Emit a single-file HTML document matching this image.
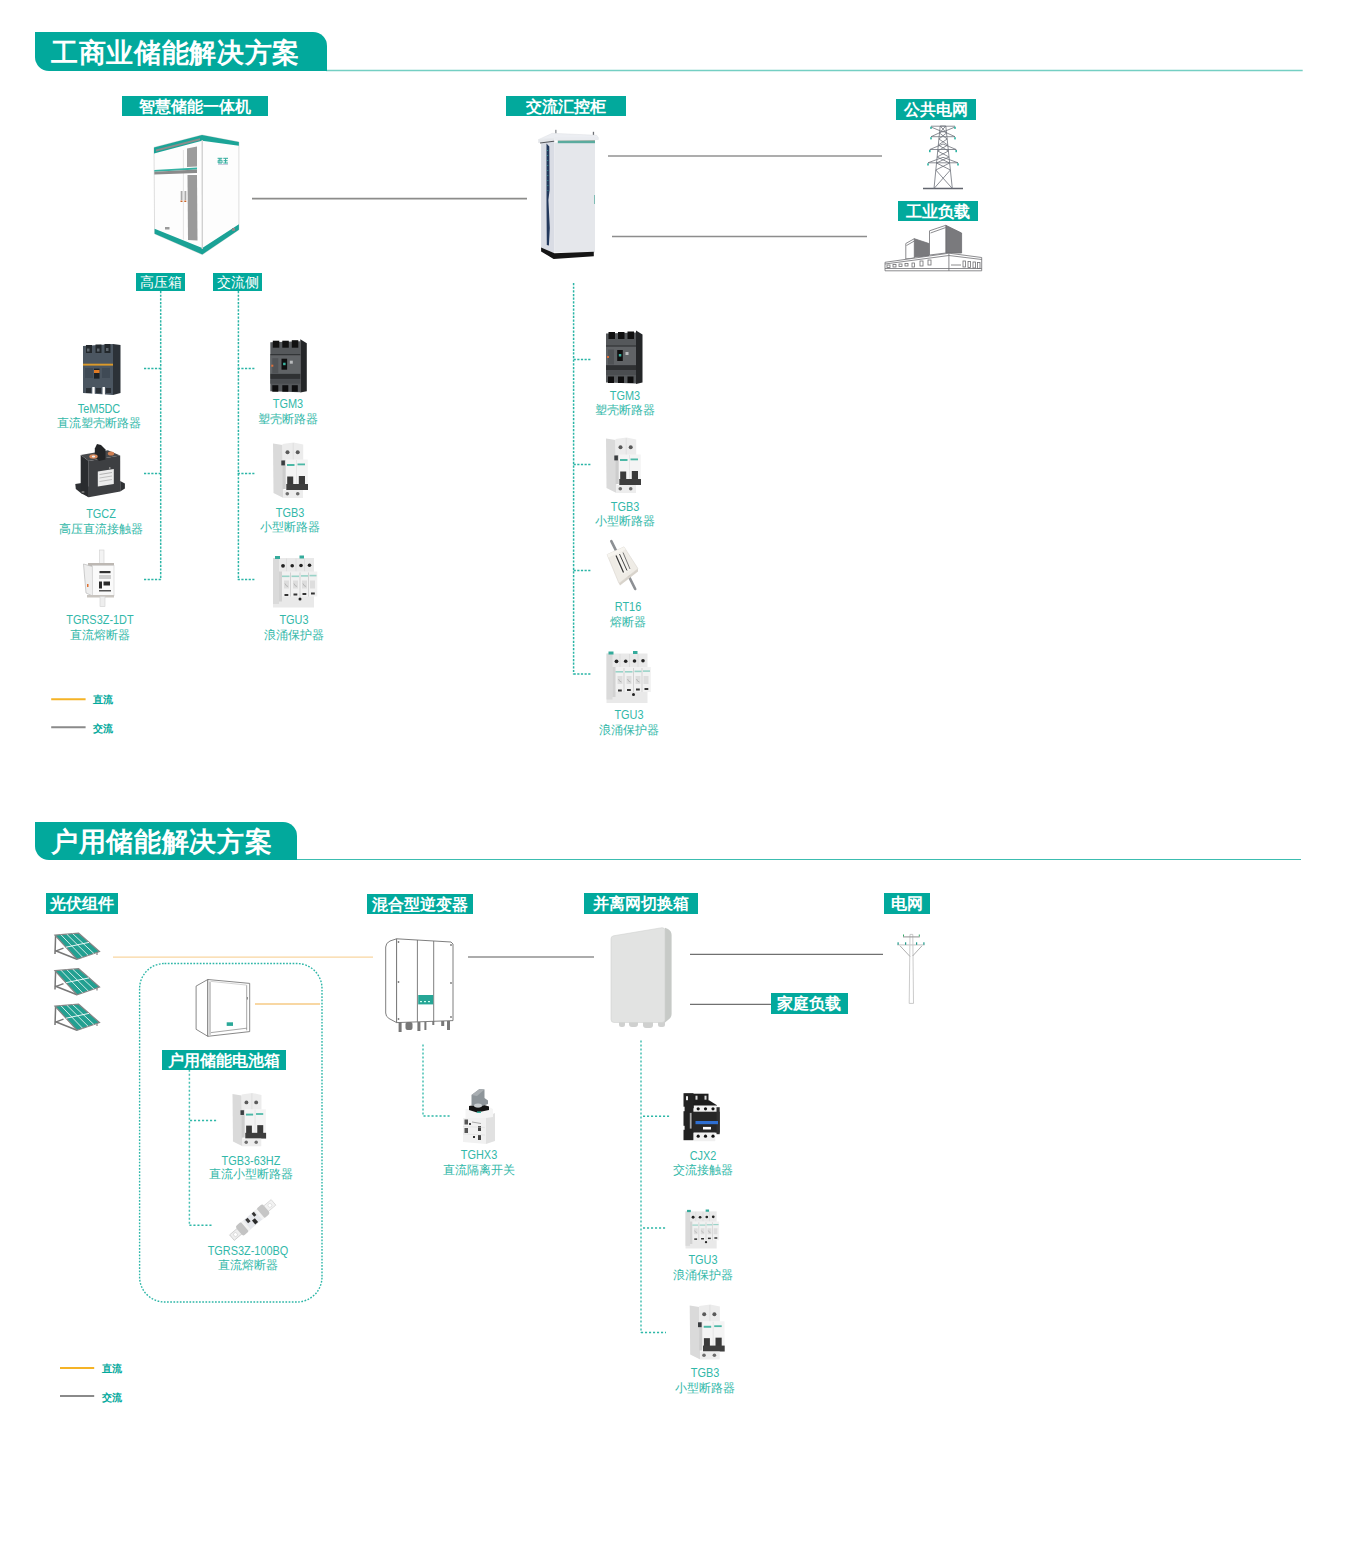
<!DOCTYPE html>
<html><head><meta charset="utf-8"><title>储能解决方案</title>
<style>
html,body{margin:0;padding:0;background:#fff;}
body{width:1350px;height:1565px;position:relative;overflow:hidden;font-family:"Liberation Sans",sans-serif;}
.hd{position:absolute;background:#02a99c;color:#fff;font-weight:bold;font-size:27px;letter-spacing:0.65px;border-radius:0 14px 0 14px;box-sizing:border-box;white-space:nowrap;}
.lb{position:absolute;background:#02a99c;color:#fff;text-align:center;white-space:nowrap;}
.capl{position:absolute;width:160px;color:#32b8a9;text-align:center;white-space:nowrap;font-size:13px;line-height:13px;transform:scaleX(0.84);}
.capc{position:absolute;width:160px;color:#32b8a9;text-align:center;white-space:nowrap;font-size:12px;line-height:12px;}
.lg{position:absolute;color:#02a99c;font-size:10px;font-weight:bold;line-height:12px;white-space:nowrap;}
svg{position:absolute;left:0;top:0;}
</style></head><body>
<svg width="1350" height="1565" viewBox="0 0 1350 1565"><defs><g id="tem5">
<polygon points="0,3 30,1 30,52 0,50" fill="#4b5661"/>
<polygon points="30,1 37.5,2 37.5,50 30,52" fill="#2c3238"/>
<rect x="3" y="2" width="6" height="8" fill="#23282c"/><rect x="12.5" y="1.5" width="6" height="8.5" fill="#23282c"/><rect x="21.5" y="1" width="6" height="9" fill="#23282c"/>
<rect x="4" y="5.5" width="2.5" height="3" fill="#5d656c"/><rect x="14" y="5.5" width="2.5" height="3" fill="#5d656c"/><rect x="23" y="5" width="2.5" height="3" fill="#5d656c"/>
<rect x="0" y="20.7" width="30" height="1.9" fill="#dc9a2a"/>
<rect x="2" y="25" width="8" height="10" fill="#3f4a55"/><rect x="19" y="25" width="8" height="10" fill="#3f4a55"/>
<rect x="11" y="25.6" width="5.5" height="10" fill="#1d2125"/><rect x="11" y="27" width="5.5" height="3" fill="#e07a24"/>
<rect x="9.3" y="44" width="2.4" height="8" fill="#ffffff"/><rect x="19.5" y="44" width="2.4" height="8" fill="#ffffff"/>
<rect x="3" y="45" width="5" height="5" fill="#2a3036"/><rect x="13" y="45" width="5" height="5" fill="#2a3036"/><rect x="23" y="45" width="5" height="5" fill="#2a3036"/>
</g><g id="tgm3">
<polygon points="0,3 30,2 30,53 0,52" fill="#55585b"/>
<polygon points="30,0 36.5,4 36.5,52 30,53.4" fill="#242628"/>
<rect x="2.5" y="1.5" width="6.5" height="7" fill="#111"/><rect x="12" y="1.5" width="6.5" height="7" fill="#111"/><rect x="21.5" y="1" width="6.5" height="7.5" fill="#111"/>
<rect x="0" y="15" width="30" height="1.2" fill="#2b2d2f"/>
<rect x="0" y="16.2" width="30" height="18.5" fill="#606366"/>
<rect x="2" y="19" width="6" height="15" fill="#505356"/>
<rect x="11.2" y="19.5" width="5.6" height="11" fill="#0f0f10"/><rect x="12.8" y="23.5" width="2.5" height="2.5" fill="#3ab3a0"/>
<rect x="19.5" y="21.5" width="3" height="3" fill="#b9bbbd"/>
<rect x="1" y="25.5" width="2" height="2" fill="#e0703a"/>
<rect x="0" y="34.7" width="30" height="5" fill="#2f3133"/>
<rect x="0" y="40" width="30" height="4.5" fill="#4a4d50"/>
<rect x="2" y="46" width="6" height="6.5" fill="#0e0e0f"/><rect x="12" y="46" width="6" height="6.5" fill="#0e0e0f"/><rect x="21.5" y="46" width="6" height="6.5" fill="#0e0e0f"/>
</g><g id="tgb3">
<polygon points="0,1.5 9.5,3 10.5,56 0.5,51" fill="#dadada"/>
<polygon points="9.5,2 20.5,0.5 30.2,2.5 30.2,18 9.5,18" fill="#ececec"/>
<line x1="20.2" y1="1" x2="20.2" y2="18" stroke="#d6d6d6" stroke-width="0.6"/>
<circle cx="14.5" cy="10.3" r="2" fill="#5a5a5a"/><circle cx="24.7" cy="10.3" r="2" fill="#5a5a5a"/>
<rect x="9.5" y="18" width="3.4" height="29" fill="#cdcdcd"/>
<rect x="8.3" y="18.5" width="3.6" height="4.9" fill="#3a3d40"/><circle cx="16.5" cy="27.5" r="0.9" fill="#3ab3a0"/><circle cx="27" cy="26.8" r="0.8" fill="#3ab3a0"/>
<rect x="12.8" y="17.5" width="22" height="30" fill="#f4f4f4"/>
<line x1="23.5" y1="18" x2="23.5" y2="42" stroke="#dedede" stroke-width="0.6"/>
<rect x="14" y="22" width="7.5" height="2" fill="#4cb8a6"/><rect x="24.5" y="21.5" width="7.5" height="1.8" fill="#4cb8a6"/>
<rect x="14.2" y="34.5" width="6" height="8" fill="#3a3a3a"/><rect x="25.8" y="34" width="6.2" height="8.5" fill="#3a3a3a"/>
<rect x="13.3" y="42" width="21.7" height="6" fill="#3e3e3e"/>
<rect x="10.5" y="48" width="19.5" height="8" fill="#ededed"/>
<circle cx="14.3" cy="51.8" r="1.8" fill="#6d6d6d"/><circle cx="24.7" cy="51.8" r="1.8" fill="#6d6d6d"/>
</g><g id="tgu3">
<rect x="0" y="2.5" width="41" height="49.5" fill="#e9e9e9"/>
<rect x="0" y="2.5" width="6" height="46" fill="#dadada"/>
<rect x="2" y="0.5" width="5" height="3" fill="#35ab9c"/><rect x="26.5" y="0" width="4.5" height="3" fill="#35ab9c"/>
<line x1="13.5" y1="3" x2="13.5" y2="16" stroke="#d0d0d0" stroke-width="0.5"/><line x1="23" y1="3" x2="23" y2="16" stroke="#d0d0d0" stroke-width="0.5"/><line x1="31.5" y1="3" x2="31.5" y2="16" stroke="#d0d0d0" stroke-width="0.5"/>
<circle cx="10" cy="10.3" r="1.9" fill="#222"/><circle cx="19.2" cy="10.3" r="1.8" fill="#222"/><circle cx="28" cy="10" r="1.8" fill="#222"/><circle cx="36.5" cy="9.8" r="1.8" fill="#222"/>
<rect x="7" y="16" width="37.3" height="25" fill="#f1f1f1"/>
<rect x="6" y="16" width="3" height="30" fill="#d2d2d2"/>
<line x1="17.5" y1="17" x2="17.5" y2="41" stroke="#c4c4c4" stroke-width="0.7"/><line x1="27" y1="17" x2="27" y2="41" stroke="#c4c4c4" stroke-width="0.7"/><line x1="35.5" y1="17" x2="35.5" y2="41" stroke="#c4c4c4" stroke-width="0.7"/>
<rect x="9" y="20" width="7.5" height="1.6" fill="#9ad3c8"/><rect x="18.5" y="20" width="7.5" height="1.6" fill="#9ad3c8"/><rect x="28" y="19.6" width="7" height="1.6" fill="#9ad3c8"/><rect x="36.5" y="19.3" width="7" height="1.6" fill="#9ad3c8"/>
<rect x="11" y="25" width="5" height="8" fill="#dddddd"/><rect x="20" y="25" width="5" height="8" fill="#dddddd"/><rect x="29" y="25" width="5" height="8" fill="#dddddd"/><rect x="37" y="25" width="5" height="8" fill="#dddddd"/><path d="M12,28 Q13,31 15,31 M21,28 Q22,31 24,31 M30,28 Q31,31 33,31" stroke="#999" stroke-width="0.6" fill="none"/>
<rect x="11.5" y="38.5" width="3.8" height="2" fill="#333"/><rect x="20.5" y="38" width="3.8" height="2" fill="#333"/><rect x="29.5" y="37.5" width="3.8" height="2" fill="#333"/><rect x="38" y="37" width="3.8" height="2" fill="#333"/>
<circle cx="27" cy="43.5" r="1.5" fill="#222"/>
</g><g id="tgcz">
<polygon points="0.3,40 8.3,38.7 13.7,42.7 13.7,53.3 6.1,49.3 0.8,44.9" fill="#2f3134"/>
<polygon points="45.2,36.9 49.9,39.6 49.9,44.4 45.2,47.6" fill="#2f3134"/>
<polygon points="5.7,10.9 13.7,16.9 13.7,53.3 5.7,47.6" fill="#2a2c2f"/>
<polygon points="13.7,16.9 45.2,11.6 45.2,47.6 13.7,53.3" fill="#3d3f42"/>
<polygon points="5.7,10.9 32.8,6.2 45.2,11.6 13.7,16.9" fill="#47494c"/>
<polygon points="19.8,4.5 22,0 26,1 30.5,5.5 30.5,15.5 24,17 19.8,13" fill="#232527"/>
<ellipse cx="18.5" cy="12.5" rx="4.2" ry="2.2" fill="#d98a5c"/><ellipse cx="18.5" cy="12.5" rx="1.7" ry="1" fill="#eee"/>
<ellipse cx="36" cy="9.5" rx="3.2" ry="2" fill="#cf7f52"/>
<polygon points="22.8,27.5 38.8,24.9 38.8,40 22.8,42.5" fill="#ececec"/>
<line x1="24.5" y1="30.5" x2="37" y2="28.5" stroke="#999" stroke-width="0.7"/><line x1="24.5" y1="34" x2="37" y2="32" stroke="#aaa" stroke-width="0.7"/><line x1="24.5" y1="37.5" x2="37" y2="35.5" stroke="#aaa" stroke-width="0.7"/>
<rect x="34" y="23" width="1.5" height="2" fill="#888"/>
<ellipse cx="8" cy="48" rx="1.6" ry="1" fill="#777"/>
</g><g id="fuse1">
<rect x="16.5" y="0" width="4.5" height="15" fill="#f3f3f3" stroke="#cfcfcf" stroke-width="0.6"/>
<polygon points="5,13 31,13 31,16.5 5,16.5" fill="#bdb8b3"/>
<polygon points="0.5,14 9.4,16.5 9.6,46 3,43" fill="#eeeeee" stroke="#b9b9b9" stroke-width="0.7"/>
<rect x="9.4" y="15.5" width="21.6" height="30.2" fill="#fafafa" stroke="#d0d0d0" stroke-width="0.6"/>
<rect x="16.5" y="21" width="11" height="2.2" fill="#333"/>
<rect x="16" y="25" width="12" height="4" fill="#cfcfcf"/>
<rect x="16" y="31.5" width="3" height="7" fill="#2a2a2a"/><rect x="20.5" y="31.5" width="6.5" height="4" fill="#2a2a2a"/>
<rect x="16" y="40" width="12" height="1.5" fill="#555"/>
<rect x="4" y="34" width="1.5" height="3" fill="#e07030"/>
<rect x="4" y="45" width="27" height="2.5" fill="#c9c5c0"/>
<rect x="17" y="46.5" width="5" height="10" fill="#eeeeee" stroke="#cfcfcf" stroke-width="0.6"/>
</g><g id="rt16">
<line x1="4.3" y1="0.7" x2="28.2" y2="48.5" stroke="#8d9094" stroke-width="2.6" stroke-linecap="round"/>
<polygon points="0.1,14.1 17,6.4 31,28.2 12,42.9" fill="#efece6" stroke="#d9d4cc" stroke-width="0.6"/>
<polygon points="0.1,14.1 17,6.4 18.5,9 1.5,17" fill="#f7f5f0"/>
<polygon points="7,15 16,11 24,30 15,34" fill="#f4f2ed"/>
<line x1="9" y1="15" x2="16.5" y2="32" stroke="#333" stroke-width="1.2"/>
<line x1="12.5" y1="13.5" x2="20" y2="30" stroke="#444" stroke-width="1"/>
<line x1="16" y1="12" x2="23" y2="28.5" stroke="#555" stroke-width="0.8"/>
<polygon points="12,42.9 31,28.2 31,31 13,45" fill="#d8d3cb"/>
</g><g id="cjx2">
<rect x="1.5" y="0.5" width="24" height="9" fill="#1e1e1e"/>
<rect x="0.5" y="0" width="10" height="47" fill="#222"/>
<rect x="3" y="3" width="2" height="4" fill="#eee"/><rect x="12.5" y="2.5" width="2" height="4" fill="#ddd"/><rect x="21.5" y="2.5" width="2" height="4" fill="#ddd"/>
<polygon points="10,9 26,7 34,12 34,15 10,15" fill="#1c1c1c"/>
<rect x="10.8" y="12.3" width="23.4" height="6.4" fill="#f2f2f2"/>
<circle cx="15.2" cy="15.6" r="1.6" fill="#111"/><circle cx="22.5" cy="15.6" r="1.6" fill="#111"/><circle cx="30" cy="15.6" r="1.6" fill="#111"/>
<rect x="10" y="18.5" width="26.7" height="21" fill="#272727"/>
<rect x="33.5" y="14" width="3.2" height="27" fill="#303030"/>
<rect x="12.5" y="27.8" width="22.5" height="3.2" fill="#2e6fd2"/>
<rect x="20" y="33.7" width="8" height="2.6" fill="#ffffff"/>
<rect x="6.8" y="19.7" width="1.8" height="15.7" fill="#a9a9a9"/><rect x="0" y="13.5" width="1.6" height="4.5" fill="#fff"/><rect x="0" y="32.6" width="1.6" height="4" fill="#fff"/>
<rect x="10.8" y="39.5" width="21.5" height="8.5" fill="#f0f0f0"/>
<circle cx="15.2" cy="43" r="1.6" fill="#111"/><circle cx="22.5" cy="43" r="1.6" fill="#111"/><circle cx="30" cy="43" r="1.6" fill="#111"/>
</g><g id="tghx3">
<polygon points="0,30 23,29 23,56 0,54" fill="#f1f1f1"/>
<polygon points="23,29 32,25 32,53 23,56" fill="#e1e1e1"/>
<polygon points="2.5,21 26,19 30,21 30,29 23,30 2.5,30" fill="#f5f5f5"/>
<polygon points="6,18 18,16 26,18.5 26,22 14,24.5 6,22" fill="#151515"/>
<polygon points="8.5,7 16.5,1 21.5,1.5 21.5,10 25,12.5 25,16 15,19.5 8.5,17" fill="#8e959a"/>
<polygon points="8.5,7 16.5,1 21.5,1.5 14,8" fill="#a9aeb2"/>
<ellipse cx="15" cy="17.5" rx="4" ry="2" fill="#c9cdd0"/>
<rect x="14" y="23.5" width="4" height="1.5" fill="#3ab5a2"/>
<rect x="1.5" y="31.5" width="3.5" height="5" fill="#555"/><rect x="6" y="35" width="2" height="2" fill="#444"/>
<line x1="9" y1="34" x2="18" y2="35.5" stroke="#888" stroke-width="0.7"/>
<rect x="1.5" y="40" width="3.5" height="5" fill="#555"/><rect x="15" y="38" width="3" height="5" fill="#444"/>
<rect x="15" y="47" width="3" height="5" fill="#444"/><rect x="10" y="48" width="2" height="2" fill="#333"/>
<line x1="0" y1="38.5" x2="22" y2="39.5" stroke="#ddd" stroke-width="0.6"/><line x1="0" y1="46" x2="22" y2="47" stroke="#ddd" stroke-width="0.6"/>
</g><g id="bq">
<rect x="-29" y="-3.6" width="11" height="7.2" fill="#eeeeee" stroke="#b9b9b9" stroke-width="0.6"/>
<circle cx="-24" cy="0" r="2" fill="#fff" stroke="#c4c4c4" stroke-width="0.5"/>
<rect x="18" y="-3.6" width="11" height="7.2" fill="#f2f2f2" stroke="#c9c9c9" stroke-width="0.6"/>
<circle cx="24" cy="0" r="2" fill="#fff" stroke="#ccc" stroke-width="0.5"/>
<rect x="-19" y="-6.2" width="9" height="12.4" rx="2.5" fill="#c3c3c3"/>
<rect x="10" y="-6.2" width="9" height="12.4" rx="2.5" fill="#c6c6c6"/>
<rect x="-10.5" y="-5.8" width="21" height="11.6" fill="#e6e8ec"/>
<rect x="-11" y="-5.8" width="3" height="11.6" fill="#f2f2f2"/><rect x="8" y="-5.8" width="3" height="11.6" fill="#f2f2f2"/>
<rect x="-6" y="-5" width="3.5" height="4.5" fill="#3a3a3a"/><rect x="-1" y="0" width="4" height="5" fill="#2a2a2a"/><rect x="3.5" y="-5.5" width="3" height="4" fill="#333"/>
</g><g id="solar">
<line x1="2.6" y1="4.7" x2="2" y2="23" stroke="#777" stroke-width="1.5"/>
<line x1="2" y1="19.5" x2="24" y2="28.3" stroke="#777" stroke-width="1.5"/>
<line x1="2.5" y1="20.2" x2="10.5" y2="17.2" stroke="#777" stroke-width="1.3"/>
<line x1="44" y1="21" x2="44" y2="24" stroke="#777" stroke-width="1.1"/>
<polygon points="2,4.2 25.6,2.2 46.5,20.6 24,28.2" fill="#22a091" stroke="#858585" stroke-width="1.2"/>
<line x1="7.9" y1="3.7" x2="29.6" y2="26.3" stroke="#fff" stroke-width="0.8"/>
<line x1="13.8" y1="3.2" x2="35.2" y2="24.4" stroke="#fff" stroke-width="0.8"/>
<line x1="19.7" y1="2.7" x2="40.9" y2="22.5" stroke="#fff" stroke-width="0.8"/>
<line x1="13" y1="16.2" x2="36" y2="11.4" stroke="#fff" stroke-width="0.9"/>
</g></defs><line x1="326" y1="70.5" x2="1302.7" y2="70.5" stroke="#74cfc3" stroke-width="1.3"/><line x1="252" y1="198.6" x2="527" y2="198.6" stroke="#8c8c8a" stroke-width="1.6"/><line x1="608" y1="156" x2="882" y2="156" stroke="#adadad" stroke-width="2"/><line x1="612" y1="236.5" x2="867" y2="236.5" stroke="#8d8d8d" stroke-width="1.5"/><line x1="160.7" y1="291" x2="160.7" y2="579.5" stroke="#2ab5a6" stroke-width="1.5" stroke-dasharray="2.2 1.45"/><line x1="144" y1="368.6" x2="161.4" y2="368.6" stroke="#2ab5a6" stroke-width="1.5" stroke-dasharray="2.2 1.45"/><line x1="144" y1="473.5" x2="161.4" y2="473.5" stroke="#2ab5a6" stroke-width="1.5" stroke-dasharray="2.2 1.45"/><line x1="144" y1="579.5" x2="161.4" y2="579.5" stroke="#2ab5a6" stroke-width="1.5" stroke-dasharray="2.2 1.45"/><line x1="238.4" y1="291" x2="238.4" y2="579.5" stroke="#2ab5a6" stroke-width="1.5" stroke-dasharray="2.2 1.45"/><line x1="237.7" y1="368.6" x2="254.4" y2="368.6" stroke="#2ab5a6" stroke-width="1.5" stroke-dasharray="2.2 1.45"/><line x1="237.7" y1="473.5" x2="254.4" y2="473.5" stroke="#2ab5a6" stroke-width="1.5" stroke-dasharray="2.2 1.45"/><line x1="237.7" y1="579.5" x2="254.4" y2="579.5" stroke="#2ab5a6" stroke-width="1.5" stroke-dasharray="2.2 1.45"/><line x1="573.6" y1="283" x2="573.6" y2="674.5" stroke="#2ab5a6" stroke-width="1.5" stroke-dasharray="2.2 1.45"/><line x1="573.6" y1="359.5" x2="590.7" y2="359.5" stroke="#2ab5a6" stroke-width="1.5" stroke-dasharray="2.2 1.45"/><line x1="573.6" y1="464.5" x2="590.7" y2="464.5" stroke="#2ab5a6" stroke-width="1.5" stroke-dasharray="2.2 1.45"/><line x1="573.6" y1="570.6" x2="590.7" y2="570.6" stroke="#2ab5a6" stroke-width="1.5" stroke-dasharray="2.2 1.45"/><line x1="573.6" y1="674.1" x2="590.7" y2="674.1" stroke="#2ab5a6" stroke-width="1.5" stroke-dasharray="2.2 1.45"/><use href="#tem5" transform="translate(83 343) scale(1 1)"/><use href="#tgcz" transform="translate(75 444) scale(1 1)"/><use href="#fuse1" transform="translate(83 550) scale(1 1)"/><use href="#tgm3" transform="translate(270.3 339.2) scale(1 1)"/><use href="#tgb3" transform="translate(273 442) scale(1 1)"/><use href="#tgu3" transform="translate(273 555.5) scale(1 1)"/><use href="#tgm3" transform="translate(606 330.5) scale(1 1)"/><use href="#tgb3" transform="translate(606 437) scale(1 1)"/><use href="#rt16" transform="translate(607 540.5) scale(1 1)"/><use href="#tgu3" transform="translate(606.5 651) scale(1 1)"/><g>
<polygon points="154,147.4 202,135 238.9,142 238.9,229.7 202.3,254.6 154.6,233.8" fill="#fdfdfd" stroke="#d6d6d6" stroke-width="0.8"/>
<polygon points="154,147.4 202,135 202,140.8 154,153.4" fill="#1ba497"/>
<polygon points="156,149.5 200,138.2 200,140.2 156,151.5" fill="#8c8c8c"/>
<polygon points="202,135 238.9,142 238.9,145.7 202,140.8" fill="#1ba497"/>
<polygon points="154.6,228.8 202.3,248 238.9,224.3 238.9,229.7 202.3,254.6 154.6,233.8" fill="#1aa296"/>
<line x1="202.2" y1="140" x2="202.3" y2="249" stroke="#cfcfcf" stroke-width="1.3"/>
<line x1="183.4" y1="150" x2="183.4" y2="239.5" stroke="#d8d8d8" stroke-width="0.7"/>
<polygon points="187,148.5 197,146.6 197,166.5 187,167" fill="#9c9c9c"/>
<polygon points="187.5,175 197,174.9 197.5,240.5 188,240" fill="#9a9a9a"/>
<polygon points="154.3,170 197,167.6 197,169.4 154.3,171.8" fill="#34b2a3"/>
<polygon points="154.3,171.8 197,169.4 197,173 154.3,174.5" fill="#8a8a8a"/>
<rect x="180.7" y="191" width="1.8" height="9" fill="#a8a8a8"/><rect x="184.5" y="191" width="1.8" height="9" fill="#a8a8a8"/>
<rect x="180.5" y="200.5" width="2" height="1.5" fill="#c8642a"/><rect x="184.3" y="200.5" width="2" height="1.5" fill="#c8642a"/>
<rect x="165" y="227" width="4.5" height="2.5" fill="#9a9a9a"/>
<path d="M217.6,158.3 H222.3 M218.2,160.2 H222 V163 H218.2 Z M219.9,158.3 V163 M223.3,158.3 H228 M225.6,158.3 V163.2 M223.6,160.7 H227.6 M223.3,163 H228" stroke="#2eab9c" stroke-width="1" fill="none"/>
<rect x="218" y="164.2" width="10" height="0.6" fill="#aac"/>
<rect x="232" y="228" width="3" height="3" fill="#888"/>
</g><g>
<rect x="555.2" y="129.8" width="1.3" height="4" fill="#8a8d92"/>
<rect x="592.8" y="131.8" width="1.3" height="3.5" fill="#6d7075"/>
<polygon points="541.1,143 554.2,141 554.2,253.3 541.1,247.5" fill="#d9dce4"/>
<polygon points="546.5,143.5 549.3,146.5 549.6,190 548.4,200 549.8,228 548.9,245.6 546.8,245 546.5,205" fill="#22385c"/>
<line x1="547.6" y1="150" x2="547.9" y2="195" stroke="#34b4a4" stroke-width="0.7" stroke-dasharray="1 4"/>
<rect x="554.2" y="142.5" width="40.8" height="110" fill="#e5e7eb"/>
<rect x="557.8" y="140.4" width="37.2" height="2.8" fill="#5aab9e"/>
<line x1="557.8" y1="140.2" x2="595" y2="140.2" stroke="#9a8c7c" stroke-width="0.6"/>
<polygon points="538.3,139.7 552.2,133.3 596.7,135.3 598.6,138.3 554.2,138.3" fill="#eceef2" stroke="#dfe1e5" stroke-width="0.5"/>
<polygon points="538.3,139.7 554.2,138.3 554.2,141 538.2,143" fill="#e4e6ea"/>
<line x1="540" y1="143" x2="554.2" y2="141.2" stroke="#3f4247" stroke-width="0.9"/>
<polygon points="554.2,138.3 598.6,138.3 598.6,140 554.2,140.5" fill="#e9ebef"/>
<rect x="594" y="195" width="1" height="9" fill="#7fbcb4"/>
<polygon points="541.1,247.5 554.5,253.3 593.8,251.8 593.8,256.2 553.6,259 541.1,251.4" fill="#151515"/>
</g><g transform="translate(923 125)"><line x1="0" y1="63.5" x2="40" y2="63.5" stroke="#62656e" stroke-width="1.3"/><polyline points="11,63.5 17.2,1 22.8,1 29.3,63.5" stroke="#6d717a" stroke-width="0.8" fill="none"/><line x1="8" y1="1.2" x2="32" y2="1.2" stroke="#6d717a" stroke-width="0.8" fill="none"/><polyline points="8,2 20,7 32,2" stroke="#6d717a" stroke-width="0.8" fill="none"/><polyline points="8,11.7 20,6.199999999999999 32,11.7" stroke="#6d717a" stroke-width="0.8" fill="none"/><line x1="8" y1="11.7" x2="32" y2="11.7" stroke="#6d717a" stroke-width="0.8" fill="none"/><polyline points="6.800000000000001,24.5 20,19.0 33.2,24.5" stroke="#6d717a" stroke-width="0.8" fill="none"/><line x1="6.800000000000001" y1="24.5" x2="33.2" y2="24.5" stroke="#6d717a" stroke-width="0.8" fill="none"/><polyline points="5,37.8 20,32.3 35,37.8" stroke="#6d717a" stroke-width="0.8" fill="none"/><line x1="5" y1="37.8" x2="35" y2="37.8" stroke="#6d717a" stroke-width="0.8" fill="none"/><line x1="17.20" y1="1" x2="23.53" y2="8" stroke="#6d717a" stroke-width="0.8" fill="none"/><line x1="22.80" y1="1" x2="16.51" y2="8" stroke="#6d717a" stroke-width="0.8" fill="none"/><line x1="16.51" y1="8" x2="24.15" y2="14" stroke="#6d717a" stroke-width="0.8" fill="none"/><line x1="23.53" y1="8" x2="15.91" y2="14" stroke="#6d717a" stroke-width="0.8" fill="none"/><line x1="15.91" y1="14" x2="24.78" y2="20" stroke="#6d717a" stroke-width="0.8" fill="none"/><line x1="24.15" y1="14" x2="15.32" y2="20" stroke="#6d717a" stroke-width="0.8" fill="none"/><line x1="15.32" y1="20" x2="25.40" y2="26" stroke="#6d717a" stroke-width="0.8" fill="none"/><line x1="24.78" y1="20" x2="14.72" y2="26" stroke="#6d717a" stroke-width="0.8" fill="none"/><line x1="14.72" y1="26" x2="26.02" y2="32" stroke="#6d717a" stroke-width="0.8" fill="none"/><line x1="25.40" y1="26" x2="14.12" y2="32" stroke="#6d717a" stroke-width="0.8" fill="none"/><line x1="14.12" y1="32" x2="26.65" y2="38" stroke="#6d717a" stroke-width="0.8" fill="none"/><line x1="26.02" y1="32" x2="13.53" y2="38" stroke="#6d717a" stroke-width="0.8" fill="none"/><line x1="13.53" y1="38" x2="27.38" y2="45" stroke="#6d717a" stroke-width="0.8" fill="none"/><line x1="26.65" y1="38" x2="12.84" y2="45" stroke="#6d717a" stroke-width="0.8" fill="none"/><line x1="12.84" y1="45" x2="29.30" y2="63.5" stroke="#6d717a" stroke-width="0.8" fill="none"/><line x1="27.38" y1="45" x2="11.00" y2="63.5" stroke="#6d717a" stroke-width="0.8" fill="none"/><rect x="7.2" y="1.7" width="1.6" height="2.2" fill="#2fb3a3"/><rect x="31.2" y="1.7" width="1.6" height="2.2" fill="#2fb3a3"/><rect x="7.2" y="12.2" width="1.6" height="2.2" fill="#2fb3a3"/><rect x="31.2" y="12.2" width="1.6" height="2.2" fill="#2fb3a3"/><rect x="6.000000000000001" y="25.0" width="1.6" height="2.2" fill="#2fb3a3"/><rect x="32.400000000000006" y="25.0" width="1.6" height="2.2" fill="#2fb3a3"/><rect x="4.2" y="38.3" width="1.6" height="2.2" fill="#2fb3a3"/><rect x="34.2" y="38.3" width="1.6" height="2.2" fill="#2fb3a3"/></g><g transform="translate(885 225)" stroke="#6f6f72" stroke-width="0.8">
<polygon points="60.8,0.3 76.6,8 76.6,28 60.8,28" fill="#7a7a7d"/>
<polygon points="44.5,5.8 60.8,0.3 60.8,28 44.5,30" fill="#fff"/>
<polyline points="45.5,8 60.8,2.5" fill="none"/>
<polygon points="29.3,13.7 43.9,18.5 43.9,31 29.3,32" fill="#7a7a7d"/>
<polygon points="20.8,18.5 29.3,13.7 29.3,33 20.8,34" fill="#fff"/>
<polyline points="21.5,20.5 29.3,16" fill="none"/>
<polygon points="0,37.3 63.9,28.2 96.7,32.5 96.7,45.8 0,45.8" fill="#fff"/>
<polyline points="0,39 63.9,30.5 96.7,34.5" fill="none"/>
<line x1="63.9" y1="28.2" x2="63.9" y2="45.8"/>
<line x1="0" y1="43.5" x2="96.7" y2="43.5"/>
<rect x="2" y="40" width="3" height="2.5" fill="none"/><rect x="8" y="39.5" width="3" height="2.5" fill="none"/><rect x="14" y="39" width="3" height="2.5" fill="none"/><rect x="20" y="38.5" width="3" height="2.5" fill="none"/>
<rect x="27" y="38" width="2.5" height="4" fill="none"/><rect x="35" y="36" width="3" height="5" fill="none"/><rect x="43" y="35" width="3" height="5" fill="none"/>
<rect x="78" y="36" width="2.5" height="6" fill="none"/><rect x="83" y="36.5" width="2.5" height="6" fill="none"/><rect x="88" y="37" width="2.5" height="6" fill="none"/><rect x="92.5" y="37.5" width="2.5" height="6" fill="none"/>
<line x1="66" y1="40" x2="76" y2="40"/>
</g><line x1="51.2" y1="699.3" x2="85.6" y2="699.3" stroke="#f5b326" stroke-width="2"/><line x1="51.2" y1="727.3" x2="85.6" y2="727.3" stroke="#8a8a8a" stroke-width="2"/><line x1="296" y1="859.5" x2="1301" y2="859.5" stroke="#3cbdb0" stroke-width="1.1"/><line x1="113" y1="957.2" x2="373" y2="957.2" stroke="#f9d6a0" stroke-width="1.3"/><line x1="255" y1="1004" x2="320" y2="1004" stroke="#f8d7a3" stroke-width="1.8"/><line x1="468" y1="957" x2="594" y2="957" stroke="#909090" stroke-width="1.5"/><line x1="690" y1="954.4" x2="883" y2="954.4" stroke="#707070" stroke-width="1.3"/><line x1="690" y1="1004.4" x2="771.2" y2="1004.4" stroke="#707070" stroke-width="1.3"/><rect x="139.6" y="963.5" width="182.4" height="338.5" rx="25" ry="25" fill="none" stroke="#2db6a7" stroke-width="1.4" stroke-dasharray="1.7 1.5"/><line x1="189.4" y1="1069.7" x2="189.4" y2="1225.8" stroke="#45c0b2" stroke-width="1.5" stroke-dasharray="2.1 1.9"/><line x1="190" y1="1120.4" x2="217.8" y2="1120.4" stroke="#2fb8a8" stroke-width="1.5" stroke-dasharray="2.1 1.9"/><line x1="189.4" y1="1225.3" x2="212.7" y2="1225.3" stroke="#2fb8a8" stroke-width="1.5" stroke-dasharray="2.1 1.9"/><line x1="423" y1="1044.4" x2="423" y2="1116" stroke="#45c0b2" stroke-width="1.5" stroke-dasharray="2.1 1.9"/><line x1="423.5" y1="1116.1" x2="450" y2="1116.1" stroke="#2fb8a8" stroke-width="1.5" stroke-dasharray="2.1 1.9"/><line x1="641" y1="1040.5" x2="641" y2="1333" stroke="#45c0b2" stroke-width="1.5" stroke-dasharray="2.1 1.9"/><line x1="643" y1="1116.3" x2="669.6" y2="1116.3" stroke="#2fb8a8" stroke-width="1.5" stroke-dasharray="2.1 1.9"/><line x1="643" y1="1228" x2="666" y2="1228" stroke="#2fb8a8" stroke-width="1.5" stroke-dasharray="2.1 1.9"/><line x1="641" y1="1332.5" x2="666" y2="1332.5" stroke="#2fb8a8" stroke-width="1.5" stroke-dasharray="2.1 1.9"/><use href="#solar" transform="translate(53 931) scale(1 1)"/><use href="#solar" transform="translate(53 966.5) scale(1 1)"/><use href="#solar" transform="translate(53 1002) scale(1 1)"/><g stroke="#6a6a6a" stroke-width="0.8" fill="#fff">
<polygon points="196.1,986.1 207.8,979.5 207.8,1036.3 196.1,1029.3"/>
<polygon points="207.8,979.5 249.7,983.4 249.7,1031.6 207.8,1036.3"/>
<line x1="210" y1="981.5" x2="210" y2="1034.8" stroke-width="0.7"/>
<line x1="246.7" y1="985.2" x2="246.7" y2="1030.3" stroke-width="0.6"/>
<line x1="211" y1="1032.6" x2="246.7" y2="1028.2" stroke-width="0.6"/>
<line x1="211" y1="981.4" x2="246.7" y2="985.1" stroke="#b5b5b5" stroke-width="0.6"/>
<rect x="246.9" y="997" width="0.9" height="2.5" fill="#777" stroke="none"/>
<rect x="226.7" y="1022.3" width="6.3" height="3.6" fill="#2aa898" stroke="none"/>
</g><g stroke="#707070" stroke-width="0.9" fill="#fff">
<path d="M396.6,938.8 L390,941 Q385.7,943 385.7,947 L385.7,1013 Q385.7,1016.6 389,1018.5 L396.6,1022.6 Z"/>
<polygon points="396.6,938.8 451,942 453,944 453,1020.6 396.6,1022.6"/>
<line x1="417.4" y1="940" x2="417.4" y2="1021.8"/>
<line x1="433.7" y1="941" x2="433.7" y2="1021.2"/>
<rect x="418.2" y="995" width="15" height="9.4" fill="#26a696" stroke="none"/>
<rect x="420" y="1001" width="2" height="1.2" fill="#cfe" stroke="none"/><rect x="424" y="1001" width="2" height="1.2" fill="#cfe" stroke="none"/><rect x="428" y="1001" width="2" height="1.2" fill="#cfe" stroke="none"/>
<g fill="#777" stroke="none">
<rect x="398.6" y="1022" width="3" height="10"/><rect x="405.5" y="1022" width="7" height="8" rx="2"/><rect x="417.4" y="1022" width="3" height="9"/><rect x="424.4" y="1022" width="2" height="8"/><rect x="432.3" y="1021" width="2" height="4"/><rect x="441.2" y="1021" width="3" height="5"/><rect x="447" y="1021" width="3" height="9"/>
<circle cx="398.5" cy="942" r="0.9"/><circle cx="451" cy="945" r="0.9"/><circle cx="398.5" cy="982" r="0.9"/><circle cx="451" cy="983" r="0.9"/><circle cx="398.5" cy="1019" r="0.9"/><circle cx="451" cy="1017" r="0.9"/>
</g>
</g><g>
<rect x="619" y="1019" width="6" height="8" rx="2.5" fill="#cfd0cf"/><rect x="629" y="1019" width="9" height="8" rx="3" fill="#cfd0cf"/><rect x="643" y="1019" width="10" height="9" rx="3" fill="#cfd0cf"/><rect x="658" y="1019" width="7" height="8" rx="2.5" fill="#cfd0cf"/>
<path d="M665,927.7 L668,929 Q671.6,931 671.6,935 L671.6,1014 Q671.6,1018 668,1020 L665,1022.5 Z" fill="#c7cac7"/>
<path d="M613.5,935.8 L662,927.7 Q665,927.5 665,930.5 L665,1019.5 Q665,1022.5 662,1022.5 L614,1022.5 Q611,1022.5 611,1019.5 L611,938.8 Q611,936.2 613.5,935.8 Z" fill="#e2e3e2" stroke="#d0d2d0" stroke-width="0.6"/>
</g><g>
<polygon points="910,934.4 912.8,934.4 913.5,1003.4 909.2,1003.4" fill="#fff" stroke="#b5b5b5" stroke-width="0.7"/>
<line x1="903" y1="936.9" x2="919.7" y2="936.9" stroke="#9a9a9a" stroke-width="1.1"/>
<line x1="897.3" y1="944.9" x2="924.6" y2="944.9" stroke="#c8c8c8" stroke-width="1.1"/>
<line x1="900" y1="945.8" x2="910" y2="956.5" stroke="#a5a5a5" stroke-width="0.9"/>
<line x1="922" y1="945.8" x2="912.6" y2="956" stroke="#a5a5a5" stroke-width="0.9"/>
<rect x="903" y="934.5" width="1" height="2" fill="#3a6"/><rect x="918.8" y="934.5" width="1" height="2" fill="#3a6"/>
<rect x="897.5" y="942.3" width="1.2" height="2.5" fill="#1e9a8a"/><rect x="905" y="942.3" width="1.2" height="2.5" fill="#1e9a8a"/><rect x="916" y="942.3" width="1.2" height="2.5" fill="#1e9a8a"/><rect x="923.3" y="942.3" width="1.2" height="2.5" fill="#1e9a8a"/>
</g><use href="#tgb3" transform="translate(232.5 1092.5) scale(0.96 0.96)"/><use href="#bq" transform="translate(252.7 1220) rotate(-40.3) scale(0.94 1)"/><use href="#tghx3" transform="translate(463 1088) scale(1 1)"/><use href="#cjx2" transform="translate(683 1093.2) scale(1 1)"/><use href="#tgu3" transform="translate(685.5 1209.5) scale(0.76 0.75)"/><use href="#tgb3" transform="translate(689.7 1304) scale(1.0 0.99)"/><line x1="60" y1="1368" x2="94.2" y2="1368" stroke="#f5b326" stroke-width="2"/><line x1="60" y1="1396" x2="94.2" y2="1396" stroke="#8a8a8a" stroke-width="2"/></svg>
<div class="hd" style="left:35px;top:32px;width:292px;height:38.6px;line-height:42px;padding-left:16px">工商业储能解决方案</div>
<div class="hd" style="left:35px;top:822px;width:262.4px;height:37.6px;line-height:41px;padding-left:16px">户用储能解决方案</div>
<div class="lb" style="left:122px;top:96px;width:146.0px;height:20.0px;line-height:21.6px;font-size:16px;font-weight:bold">智慧储能一体机</div><div class="lb" style="left:506px;top:96px;width:120.0px;height:20.0px;line-height:21.6px;font-size:16px;font-weight:bold">交流汇控柜</div><div class="lb" style="left:896px;top:99px;width:80.0px;height:20.5px;line-height:22.1px;font-size:16px;font-weight:bold">公共电网</div><div class="lb" style="left:898px;top:201px;width:80.0px;height:20.0px;line-height:21.6px;font-size:16px;font-weight:bold">工业负载</div><div class="lb" style="left:135.6px;top:272.7px;width:49.9px;height:18.3px;line-height:19.9px;font-size:14px;font-weight:normal">高压箱</div><div class="lb" style="left:213px;top:272.7px;width:49.4px;height:18.3px;line-height:19.9px;font-size:14px;font-weight:normal">交流侧</div><div class="capl" style="left:18.9px;top:402.2px">TeM5DC</div><div class="capc" style="left:18.9px;top:417.4px">直流塑壳断路器</div><div class="capl" style="left:21.2px;top:506.5px">TGCZ</div><div class="capc" style="left:21.2px;top:522.8px">高压直流接触器</div><div class="capl" style="left:19.5px;top:612.9px">TGRS3Z-1DT</div><div class="capc" style="left:19.5px;top:628.8px">直流熔断器</div><div class="capl" style="left:208.4px;top:397.4px">TGM3</div><div class="capc" style="left:208.4px;top:413.2px">塑壳断路器</div><div class="capl" style="left:210.0px;top:505.5px">TGB3</div><div class="capc" style="left:210.0px;top:520.8px">小型断路器</div><div class="capl" style="left:214.2px;top:612.9px">TGU3</div><div class="capc" style="left:214.2px;top:629.1px">浪涌保护器</div><div class="capl" style="left:544.7px;top:388.5px">TGM3</div><div class="capc" style="left:544.7px;top:404.4px">塑壳断路器</div><div class="capl" style="left:544.6px;top:499.8px">TGB3</div><div class="capc" style="left:544.6px;top:515.3px">小型断路器</div><div class="capl" style="left:547.5px;top:600.2px">RT16</div><div class="capc" style="left:547.5px;top:615.5px">熔断器</div><div class="capl" style="left:549.3px;top:707.5px">TGU3</div><div class="capc" style="left:549.3px;top:723.8px">浪涌保护器</div><div class="lg" style="left:93px;top:694px">直流</div><div class="lg" style="left:93px;top:723px">交流</div><div class="lb" style="left:46px;top:893.3px;width:72.0px;height:20.4px;line-height:22.0px;font-size:16px;font-weight:bold">光伏组件</div><div class="lb" style="left:367px;top:893.5px;width:106.3px;height:20.2px;line-height:21.8px;font-size:16px;font-weight:bold">混合型逆变器</div><div class="lb" style="left:584px;top:893.2px;width:114.0px;height:20.6px;line-height:22.2px;font-size:16px;font-weight:bold">并离网切换箱</div><div class="lb" style="left:884.4px;top:893px;width:45.3px;height:21.0px;line-height:22.6px;font-size:16px;font-weight:bold">电网</div><div class="lb" style="left:162px;top:1049.5px;width:123.5px;height:20.2px;line-height:21.8px;font-size:16px;font-weight:bold">户用储能电池箱</div><div class="lb" style="left:771.2px;top:993.1px;width:76.6px;height:20.6px;line-height:22.2px;font-size:16px;font-weight:bold">家庭负载</div><div class="capl" style="left:171.0px;top:1153.5px">TGB3-63HZ</div><div class="capc" style="left:171.0px;top:1168.4px">直流小型断路器</div><div class="capl" style="left:168.0px;top:1243.7px">TGRS3Z-100BQ</div><div class="capc" style="left:168.0px;top:1258.8px">直流熔断器</div><div class="capl" style="left:398.9px;top:1148.2px">TGHX3</div><div class="capc" style="left:398.9px;top:1163.8px">直流隔离开关</div><div class="capl" style="left:623.1px;top:1148.5px">CJX2</div><div class="capc" style="left:623.1px;top:1163.8px">交流接触器</div><div class="capl" style="left:623.1px;top:1253.0px">TGU3</div><div class="capc" style="left:623.1px;top:1268.8px">浪涌保护器</div><div class="capl" style="left:625.4px;top:1366.0px">TGB3</div><div class="capc" style="left:625.4px;top:1381.8px">小型断路器</div><div class="lg" style="left:102px;top:1363px">直流</div><div class="lg" style="left:102px;top:1392px">交流</div>
</body></html>
